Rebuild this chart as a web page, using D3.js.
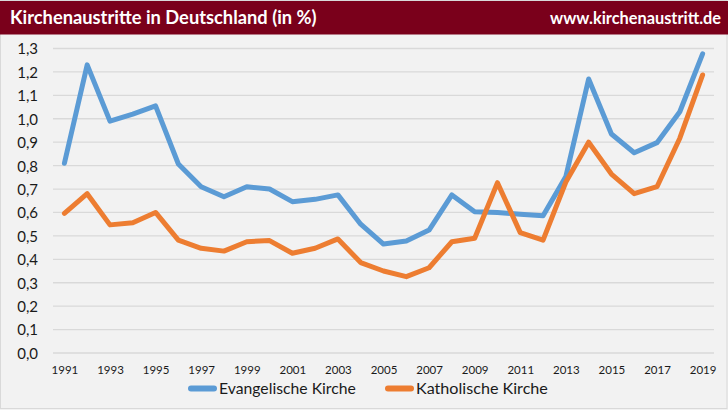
<!DOCTYPE html>
<html><head><meta charset="utf-8">
<script src="https://cdn.jsdelivr.net/npm/d3@7"></script>
<style>html,body{margin:0;padding:0;background:#f2f2f2;}svg{display:block;}</style>
</head><body>
<svg id="c" width="728" height="410"></svg>
<script>
const years = [1991,1992,1993,1994,1995,1996,1997,1998,1999,2000,2001,2002,2003,2004,2005,2006,2007,2008,2009,2010,2011,2012,2013,2014,2015,2016,2017,2018,2019];
const evangelisch = [0.81,1.23,0.99,1.02,1.055,0.807,0.71,0.667,0.71,0.70,0.646,0.656,0.675,0.55,0.465,0.478,0.525,0.675,0.603,0.60,0.592,0.586,0.753,1.17,0.935,0.855,0.898,1.03,1.277];
const katholisch = [0.596,0.68,0.547,0.556,0.60,0.482,0.447,0.435,0.475,0.48,0.426,0.447,0.487,0.386,0.35,0.326,0.364,0.475,0.49,0.727,0.514,0.482,0.73,0.90,0.764,0.68,0.71,0.917,1.187];
const yTicks = [0,0.1,0.2,0.3,0.4,0.5,0.6,0.7,0.8,0.9,1.0,1.1,1.2,1.3];
const xTickYears = [1991,1993,1995,1997,1999,2001,2003,2005,2007,2009,2011,2013,2015,2017,2019];
const seriesNames = ["Evangelische Kirche","Katholische Kirche"];
const colors = ["#5b9bd5","#ed7d31"];

const svg = d3.select("#c");
const font = "Lato, 'Open Sans', sans-serif";

function fit(sel, target){
  const w = sel.node().getComputedTextLength();
  const fs = parseFloat(sel.attr("font-size"));
  sel.attr("font-size", fs*target/w);
}

// background + border
svg.append("rect").attr("x",0.5).attr("y",0.5).attr("width",726.5).attr("height",408).attr("fill","#f2f2f2").attr("stroke","#d9d9d9");
// header
svg.append("rect").attr("x",0).attr("y",1).attr("width",728).attr("height",33.5).attr("fill","#7a001b");
const t1 = svg.append("text").attr("x",10).attr("y",24).attr("fill","#fff").attr("font-family",font).attr("font-size",17).attr("font-weight",700).text("Kirchenaustritte in Deutschland (in %)");
fit(t1, 307);
const t2 = svg.append("text").attr("x",721).attr("y",24).attr("text-anchor","end").attr("fill","#fff").attr("font-family",font).attr("font-size",16).attr("font-weight",700).text("www.kirchenaustritt.de");
fit(t2, 171);

const x = d3.scalePoint().domain(years).range([53,714]).padding(0.5);
const y = d3.scaleLinear().domain([0,1.3]).range([353,48.5]);

// gridlines
const grid = svg.append("g");
grid.selectAll("line").data(yTicks).join("line")
  .attr("x1",53).attr("x2",714)
  .attr("y1",d=>y(d)).attr("y2",d=>y(d))
  .attr("stroke","#d9d9d9").attr("stroke-width",1.3);

// y axis
const yAxis = svg.append("g").attr("transform","translate(38,0)")
  .call(d3.axisLeft(y).tickValues(yTicks).tickSize(0).tickPadding(0).tickFormat(d=>d3.format(".1f")(d).replace(".",",")));
yAxis.select(".domain").remove();
yAxis.selectAll("text").attr("font-family",font).attr("font-size",15).attr("fill","#1a1a1a").attr("dy","0.36em");

// x axis
const xAxis = svg.append("g").attr("transform","translate(0,366)")
  .call(d3.axisBottom(x).tickValues(xTickYears).tickSize(0).tickPadding(0).tickFormat(d3.format("d")));
xAxis.select(".domain").remove();
xAxis.selectAll("text").attr("font-family",font).attr("font-size",11.5).attr("fill","#1a1a1a");

// lines
const line = d3.line().x((d,i)=>x(years[i])).y(d=>y(d));
[evangelisch,katholisch].forEach((s,i)=>{
  svg.append("path").datum(s).attr("d",line).attr("fill","none")
    .attr("stroke",colors[i]).attr("stroke-width",5).attr("stroke-linejoin","round").attr("stroke-linecap","round");
});

// legend
const legendX = [188,385];
const legendW = [137,132];
seriesNames.forEach((n,i)=>{
  const g = svg.append("g");
  g.append("line").attr("x1",legendX[i]+3).attr("x2",legendX[i]+26).attr("y1",388.5).attr("y2",388.5)
    .attr("stroke",colors[i]).attr("stroke-width",6).attr("stroke-linecap","round");
  const tx = g.append("text").attr("x",legendX[i]+31).attr("y",394).attr("font-family",font).attr("font-size",16).attr("fill","#1a1a1a").text(n);
  fit(tx, legendW[i]);
});
</script>
</body></html>
